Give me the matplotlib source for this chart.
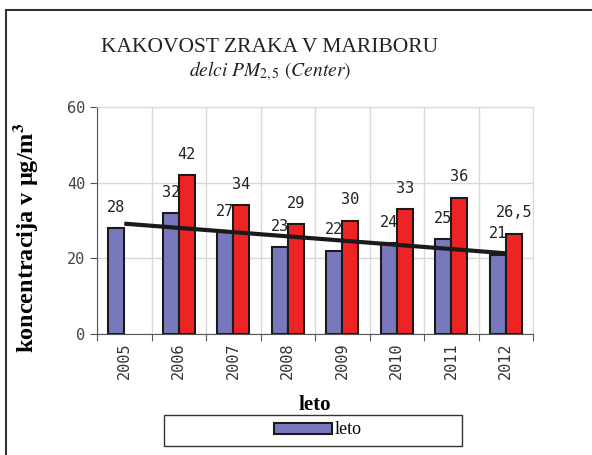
import numpy as np
import matplotlib
matplotlib.use("Agg")
import matplotlib.pyplot as plt
from matplotlib.patches import Rectangle, Patch

plt.rcParams["mathtext.fontset"] = "stix"

years = ["2005", "2006", "2007", "2008", "2009", "2010", "2011", "2012"]
blue_vals = [28, 32, 27, 23, 22, 24, 25, 21]
red_vals = [np.nan, 42, 34, 29, 30, 33, 36, 26.5]
red_labels = ["", "42", "34", "29", "30", "33", "36", "26,5"]

BLUE = "#7878bc"
RED = "#ee2424"
GRID = "#d8d8d8"
num_font = "DejaVu Sans Mono"

fig = plt.figure(figsize=(5.92, 4.55), dpi=100)
ax = fig.add_axes([97 / 592, 1 - 334 / 455, 436 / 592, 227 / 455])

x = np.arange(len(years))
w = 0.29
ax.bar(x - w / 2, blue_vals, w, color=BLUE, edgecolor="#1a1a1a", linewidth=1.5, zorder=2)
ax.bar(x + w / 2, red_vals, w, color=RED, edgecolor="#1a1a1a", linewidth=1.5, zorder=4)

# blue labels sit under the red bars (clipped like in the original)
for xi, v in zip(x, blue_vals):
    ax.annotate(str(v), (xi - w / 2, v), xytext=(0, 15), textcoords="offset points",
                ha="center", va="center", fontsize=11, family=num_font, color="#222222", zorder=3)
for xi, v, s in zip(x, red_vals, red_labels):
    if s:
        ax.annotate(s, (xi + w / 2, v), xytext=(0, 15), textcoords="offset points",
                    ha="center", va="center", fontsize=11, family=num_font, color="#222222", zorder=5)

# linear trend of the blue series
k, b = np.polyfit(x, blue_vals, 1)
ax.plot(x, k * x + b, color="#1a1a1a", linewidth=3, zorder=6, solid_capstyle="butt")

ax.set_xlim(-0.5, len(years) - 0.5)
ax.set_ylim(0, 60)
ax.set_yticks([0, 20, 40, 60])
ax.set_xticks(np.arange(len(years) + 1) - 0.5)
ax.set_xticklabels([])
ax.set_xticks(x, minor=True)
ax.set_xticklabels(years, minor=True, rotation=90, fontsize=11, family=num_font, color="#333333")
ax.tick_params(axis="x", which="minor", length=0, pad=6)
ax.tick_params(axis="x", which="major", length=5, direction="out", color="#555555")
ax.tick_params(axis="y", length=5, direction="out", color="#555555", labelsize=11, labelcolor="#444444")
for t in ax.get_yticklabels():
    t.set_family(num_font)
ax.grid(True, which="major", color=GRID, linewidth=1, zorder=0)
ax.set_axisbelow(True)
for s in ["top", "right"]:
    ax.spines[s].set_color(GRID)
for s in ["left", "bottom"]:
    ax.spines[s].set_color("#555555")

ax.set_ylabel("koncentracija v µg/m$^\\mathbf{3}$", fontsize=17.5, fontweight="bold",
              family="Liberation Serif")
ax.yaxis.set_label_coords(-(97 - 40) / 436, (334 - 238) / 227)
ax.set_xlabel("leto", fontsize=15, fontweight="bold", family="Liberation Serif")
ax.xaxis.set_label_coords(0.5, -(395 - 334) / 227)

fig.text(270 / 592, 1 - 47 / 455, "KAKOVOST ZRAKA V MARIBORU", ha="center", va="center",
         fontsize=15.5, family="Liberation Serif", color="#222222")
fig.text(270 / 592, 1 - 71 / 455, r"$\mathit{delci\ PM_{2,5}\ (Center)}$", ha="center", va="center",
         fontsize=14, color="#222222")

# legend box
fig.patches.append(Rectangle((164 / 592, 1 - 446 / 455), 298 / 592, 31 / 455,
                             transform=fig.transFigure, fill=False, edgecolor="#333333", linewidth=1))
fig.legend([Patch(facecolor=BLUE, edgecolor="#1a1a1a", linewidth=1.5)], ["leto"],
           loc="center", bbox_to_anchor=(318 / 592, 1 - 430 / 455), frameon=False,
           handlelength=3.2, handleheight=0.55, handletextpad=0.15,
           prop={"family": "Liberation Serif", "size": 13})

# outer chart frame (cut off at right and bottom)
fig.patches.append(Rectangle((6 / 592, -0.1), 1.2, 1 - 10 / 455 + 0.1, transform=fig.transFigure,
                             fill=False, edgecolor="#333333", linewidth=1.5))

fig.savefig("out.png", dpi=100)
